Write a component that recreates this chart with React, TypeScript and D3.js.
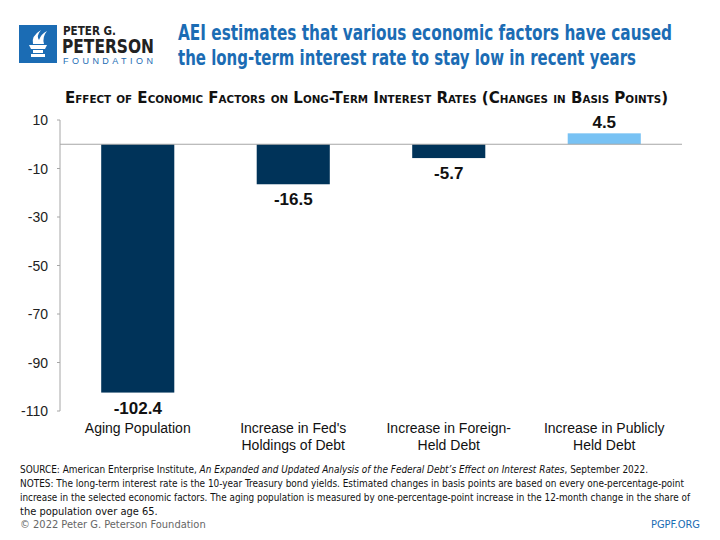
import React from "react";
import * as d3 from "d3";

const categories: string[][] = [
  ["Aging Population"],
  ["Increase in Fed's", "Holdings of Debt"],
  ["Increase in Foreign-", "Held Debt"],
  ["Increase in Publicly", "Held Debt"],
];
const values: number[] = [-102.4, -16.5, -5.7, 4.5];
const valueLabels: string[] = ["-102.4", "-16.5", "-5.7", "4.5"];
const yTicks: number[] = [10, -10, -30, -50, -70, -90, -110];

const NAVY = "#003359";
const LIGHT = "#78c2f4";
const BLUE = "#1b6cb4";
const GREY = "#a6a6a6";

export default function App() {
  const W = 720;
  const H = 540;
  const x0 = 60;
  const x1 = 682;
  const y = d3.scaleLinear().domain([-110, 10]).range([411, 120]);
  const x = d3
    .scaleBand<number>()
    .domain(values.map((_, i) => i))
    .range([x0, x1])
    .paddingInner(0.53)
    .paddingOuter(0.265);
  const narrow = "'Liberation Sans Narrow', 'DejaVu Sans Condensed', sans-serif";
  const sans = "'Liberation Sans', Arial, sans-serif";

  return (
    <svg
      width={W}
      height={H}
      style={{ position: "absolute", left: 0, top: 0, background: "#fff" }}
    >
      <rect x={0} y={0} width={W} height={H} fill="#fff" />
      {/* Logo */}
      <rect x={19} y={25} width={38} height={38} fill={BLUE} />
      <g fill="#fff">
        <path d="M29 45 h18 l-2 4 h-14 z" />
        <rect x={33} y={50} width={10} height={3} />
        <rect x={31} y={54} width={14} height={3} />
        <path d="M33 44 q-2 -8 8 -14 q-5 6 -2 10 q2 -6 8 -9 q-5 6 -3 13 z" />
      </g>
      <text x={63} y={35} fontFamily={narrow} fontWeight="bold" fontSize={13} fill="#222" textLength={53} lengthAdjust="spacingAndGlyphs">
        PETER G.
      </text>
      <text x={62} y={53} fontFamily={narrow} fontWeight="bold" fontSize={19} fill="#222" textLength={92} lengthAdjust="spacingAndGlyphs">
        PETERSON
      </text>
      <text x={63} y={64} fontFamily={sans} fontSize={9} fill={BLUE} textLength={90} lengthAdjust="spacing">
        FOUNDATION
      </text>
      {/* Header title */}
      <text x={178} y={40} fontFamily={narrow} fontWeight="bold" fontSize={21} fill={BLUE} textLength={494} lengthAdjust="spacingAndGlyphs">
        AEI estimates that various economic factors have caused
      </text>
      <text x={178} y={65} fontFamily={narrow} fontWeight="bold" fontSize={21} fill={BLUE} textLength={458} lengthAdjust="spacingAndGlyphs">
        the long-term interest rate to stay low in recent years
      </text>
      {/* Chart title */}
      <text x={65} y={103} fontFamily={narrow} fontWeight="bold" fontSize={16} fill="#111" style={{ fontVariant: "small-caps" }} textLength={603} lengthAdjust="spacingAndGlyphs">
        Effect of Economic Factors on Long-Term Interest Rates (Changes in Basis Points)
      </text>
      {/* Y axis */}
      <line x1={x0} x2={x0} y1={y(10)} y2={y(-110)} stroke={GREY} strokeWidth={1} />
      {yTicks.map((t) => (
        <g key={t}>
          <line x1={x0 - 3} x2={x0} y1={y(t)} y2={y(t)} stroke={GREY} />
          <text x={48} y={y(t) + 5} textAnchor="end" fontFamily={sans} fontSize={14} fill="#222">
            {t}
          </text>
        </g>
      ))}
      {/* Bars */}
      {values.map((v, i) => (
        <rect
          key={i}
          x={x(i)}
          y={y(Math.max(0, v))}
          width={x.bandwidth()}
          height={Math.abs(y(v) - y(0))}
          fill={v >= 0 ? LIGHT : NAVY}
        />
      ))}
      <line x1={x0} x2={x1} y1={y(0)} y2={y(0)} stroke={GREY} strokeWidth={1} />
      {values.map((v, i) => (
        <text
          key={i}
          x={(x(i) as number) + x.bandwidth() / 2}
          y={v >= 0 ? y(v) - 5 : y(v) + 21}
          textAnchor="middle"
          fontFamily={sans}
          fontWeight="bold"
          fontSize={17}
          fill="#111"
        >
          {valueLabels[i]}
        </text>
      ))}
      {categories.map((lines, i) => (
        <text
          key={i}
          x={(x(i) as number) + x.bandwidth() / 2}
          y={433}
          textAnchor="middle"
          fontFamily={sans}
          fontSize={14}
          fill="#111"
        >
          {lines.map((l, j) => (
            <tspan key={j} x={(x(i) as number) + x.bandwidth() / 2} dy={j === 0 ? 0 : 17}>
              {l}
            </tspan>
          ))}
        </text>
      ))}
      {/* Footer */}
      <g fontFamily={narrow} fontSize={11} fill="#111">
        <text x={20} y={473} textLength={628} lengthAdjust="spacingAndGlyphs">
          SOURCE: American Enterprise Institute, <tspan fontStyle="italic">An Expanded and Updated Analysis of the Federal Debt’s Effect on Interest Rates</tspan>, September 2022.
        </text>
        <text x={20} y={487} textLength={664} lengthAdjust="spacingAndGlyphs">
          NOTES: The long-term interest rate is the 10-year Treasury bond yields. Estimated changes in basis points are based on every one-percentage-point
        </text>
        <text x={20} y={501} textLength={670} lengthAdjust="spacingAndGlyphs">
          increase in the selected economic factors. The aging population is measured by one-percentage-point increase in the 12-month change in the share of
        </text>
        <text x={20} y={515}>the population over age 65.</text>
      </g>
      <text x={20} y={528} fontFamily={narrow} fontSize={11} fill="#666">
        © 2022 Peter G. Peterson Foundation
      </text>
      <text x={700} y={528} textAnchor="end" fontFamily={narrow} fontSize={11} fill={BLUE}>
        PGPF.ORG
      </text>
    </svg>
  );
}
